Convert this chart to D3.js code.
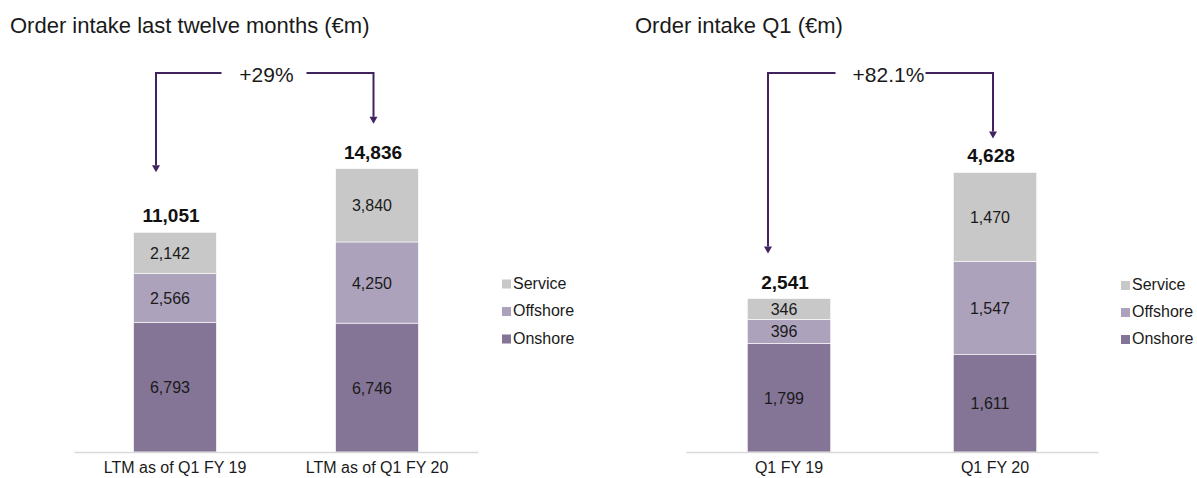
<!DOCTYPE html>
<html>
<head>
<meta charset="utf-8">
<script src="https://cdn.jsdelivr.net/npm/d3@7"></script>
<style>
  html, body { margin: 0; padding: 0; background: #fff; }
  svg { display: block; font-family: "Liberation Sans", Arial, sans-serif; }
</style>
</head>
<body>
<svg id="chart" width="1197" height="478"></svg>
<script>
// ---------- data ----------
const seriesNames = ["Onshore", "Offshore", "Service"];
const legendOrder = ["Service", "Offshore", "Onshore"];

const ltmTitle = "Order intake last twelve months (€m)";
const ltmCategories = ["LTM as of Q1 FY 19", "LTM as of Q1 FY 20"];
const ltmOnshore = [6793, 6746];
const ltmOffshore = [2566, 4250];
const ltmService = [2142, 3840];
const ltmTotals = [11051, 14836];
const ltmGrowth = "+29%";

const q1Title = "Order intake Q1 (€m)";
const q1Categories = ["Q1 FY 19", "Q1 FY 20"];
const q1Onshore = [1799, 1611];
const q1Offshore = [396, 1547];
const q1Service = [346, 1470];
const q1Totals = [2541, 4628];
const q1Growth = "+82.1%";

// ---------- style ----------
const colors = { Onshore: "#847596", Offshore: "#ada2bc", Service: "#c8c8c8" };
const arrowColor = "#3f225e";
const fmt = d3.format(",");

const svg = d3.select("#chart");

function drawPanel(cfg) {
  const rows = cfg.categories.map((c, i) => ({
    cat: c, Onshore: cfg.onshore[i], Offshore: cfg.offshore[i], Service: cfg.service[i]
  }));
  const stack = d3.stack().keys(seriesNames)(rows);

  const x = d3.scaleBand().domain(cfg.categories).range(cfg.xRange)
    .paddingInner(cfg.padInner).paddingOuter(cfg.padOuter);
  const y = d3.scaleLinear().domain([0, cfg.yMax]).range([452, 452 - cfg.yMax * cfg.pxPerUnit]);

  const g = svg.append("g");

  // title
  g.append("text").attr("x", cfg.titleX).attr("y", 33)
    .attr("font-size", 22).attr("fill", "#1a1a1a").text(cfg.title);

  // bars
  stack.forEach(layer => {
    const key = layer.key;
    const lg = g.append("g");
    lg.selectAll("rect").data(layer).join("rect")
      .attr("x", d => x(d.data.cat))
      .attr("width", x.bandwidth())
      .attr("y", d => y(d[1]))
      .attr("height", d => y(d[0]) - y(d[1]))
      .attr("fill", colors[key])
      .attr("stroke", "#ffffff").attr("stroke-width", 0.6);
    lg.selectAll("text").data(layer).join("text")
      .attr("x", d => x(d.data.cat) + x.bandwidth() / 2 - 5)
      .attr("y", d => (y(d[0]) + y(d[1])) / 2 + 6)
      .attr("text-anchor", "middle")
      .attr("font-size", 16).attr("fill", "#1a1a1a")
      .text(d => fmt(d.data[key]));
  });

  // totals
  const top = stack[stack.length - 1];
  g.selectAll(".total").data(top).join("text")
    .attr("class", "total")
    .attr("x", (d, i) => x(d.data.cat) + x.bandwidth() / 2 - 4)
    .attr("y", d => y(d[1]) - 10)
    .attr("text-anchor", "middle")
    .attr("font-size", 19).attr("font-weight", "bold").attr("fill", "#111")
    .text((d, i) => fmt(cfg.totals[i]));

  // axis baseline
  const axis = d3.axisBottom(x).tickSize(0).tickPadding(10);
  const ag = g.append("g").attr("transform", "translate(0,452)").call(axis);
  ag.select(".domain").attr("stroke", "#d9d9d9").attr("stroke-width", 1.5);
  ag.selectAll("text").attr("font-size", 16).attr("fill", "#1a1a1a")
    .attr("font-family", "Liberation Sans, Arial, sans-serif");

  // growth arrow
  const lineY = 73;
  const xl = x(cfg.categories[0]) + x.bandwidth() / 2 + cfg.arrowDx[0];
  const xr = x(cfg.categories[1]) + x.bandwidth() / 2 + cfg.arrowDx[1];
  const tipL = y(top[0][1]) - cfg.tipOffset[0];
  const tipR = y(top[1][1]) - cfg.tipOffset[1];
  const tx = cfg.growthX;
  g.append("text").attr("x", tx).attr("y", 82).attr("text-anchor", "middle")
    .attr("font-size", 21).attr("fill", "#1a1a1a").text(cfg.growth);
  const ah = 7;
  g.append("path")
    .attr("d", `M${tx - cfg.gap[0]},${lineY}H${xl}V${tipL - ah}`)
    .attr("fill", "none").attr("stroke", arrowColor).attr("stroke-width", 2);
  g.append("path")
    .attr("d", `M${tx + cfg.gap[1]},${lineY}H${xr}V${tipR - ah}`)
    .attr("fill", "none").attr("stroke", arrowColor).attr("stroke-width", 2);
  [[xl, tipL], [xr, tipR]].forEach(([px, py]) => {
    g.append("path")
      .attr("d", `M${px - 4},${py - ah}L${px + 4},${py - ah}L${px},${py}Z`)
      .attr("fill", arrowColor);
  });

  // legend
  const lgd = g.append("g");
  legendOrder.forEach((name, i) => {
    const yy = cfg.legendY + i * cfg.legendStep;
    lgd.append("rect").attr("x", cfg.legendX).attr("y", yy - 9)
      .attr("width", 9).attr("height", 9).attr("fill", colors[name]);
    lgd.append("text").attr("x", cfg.legendX + 11).attr("y", yy)
      .attr("font-size", 16).attr("fill", "#1a1a1a").text(name);
  });
}

drawPanel({
  title: ltmTitle, titleX: 10,
  categories: ltmCategories, onshore: ltmOnshore, offshore: ltmOffshore, service: ltmService,
  totals: ltmTotals, growth: ltmGrowth,
  xRange: [74, 478], padInner: 0.59, padOuter: 0.295,
  yMax: 16000, pxPerUnit: 0.0191,
  arrowDx: [-19, -3.5], tipOffset: [60, 45], growthX: 266.5, gap: [45, 40],
  legendX: 502, legendY: 288.5, legendStep: 27.5
});

drawPanel({
  title: q1Title, titleX: 635,
  categories: q1Categories, onshore: q1Onshore, offshore: q1Offshore, service: q1Service,
  totals: q1Totals, growth: q1Growth,
  xRange: [686, 1098], padInner: 0.595, padOuter: 0.2975,
  yMax: 5000, pxPerUnit: 0.0604,
  arrowDx: [-21, -2], tipOffset: [45, 34], growthX: 888.5, gap: [53, 37],
  legendX: 1121, legendY: 290, legendStep: 27
});
</script>
</body>
</html>
